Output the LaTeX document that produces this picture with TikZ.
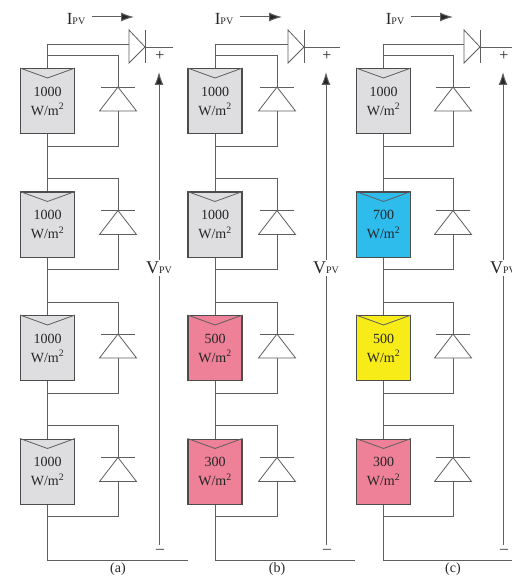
\documentclass[tikz,border=0pt]{standalone}
\usepackage{fontspec}
\setmainfont{Liberation Serif}
\usetikzlibrary{arrows.meta}
\definecolor{wire}{RGB}{95,95,95}
\definecolor{cellgray}{RGB}{222,222,224}
\definecolor{cellpink}{RGB}{238,128,152}
\definecolor{cellcyan}{RGB}{45,188,236}
\definecolor{cellyellow}{RGB}{248,236,24}
\newcommand{\pvsub}[2]{{\fontsize{#1}{#1}\selectfont #2}{\fontsize{10}{10}\selectfont PV}}

\begin{document}
\begin{tikzpicture}[x=1pt, y=-1pt, line width=0.8pt, color=wire,
    every node/.append style={text=black!85},
    cell/.style={draw=wire!80!black, line width=1.1pt, minimum width=54pt, minimum height=65pt,
      inner sep=0pt, anchor=north, align=center, font=\fontsize{14}{19}\selectfont},
    diode/.style={fill=white, line width=0.8pt},
    tip/.style={-{Latex[length=13pt,width=9pt,fill=black!85]}, line width=1pt},
    sign/.style={inner sep=0pt, font=\fontsize{16}{16}\selectfont}]
  \useasboundingbox (0,0) rectangle (511,577);
  \foreach \col/\px/\dx/\vx/\ix/\cells in {
      a/47.5/118/159/76/{1000/cellgray,1000/cellgray,1000/cellgray,1000/cellgray},
      b/215/277/326/224/{1000/cellgray,1000/cellgray,500/cellpink,300/cellpink},
      c/383.5/453/503/395/{1000/cellgray,700/cellcyan,500/cellyellow,300/cellpink}}
  {
    % four panels, each with its bypass diode
    \foreach \g/\clr [count=\k] in \cells {
      \pgfmathsetmacro\T{68+123.5*(\k-1)}
      \node (pv-\col\k) [cell, fill=\clr] at (\px,\T) {\g\\W/m\textsuperscript{2}};
      \draw (pv-\col\k.north west) -- ([yshift=-10pt]pv-\col\k.north) -- (pv-\col\k.north east);
      \coordinate (in-\col\k) at (\px,\T-13);
      \coordinate (k-\col\k) at (\dx,\T+19);
      \coordinate (a-\col\k) at (\dx,\T+43);
      \coordinate (out-\col\k) at (\px,\T+78);
      \draw (in-\col\k) -| (k-\col\k);
      \draw (a-\col\k) |- (out-\col\k);
      \draw (in-\col\k) -- (pv-\col\k);
      \draw (pv-\col\k) -- (out-\col\k);
      \draw[diode] ([xshift=-18.5pt]a-\col\k) -- ([xshift=18.5pt]a-\col\k) -- (k-\col\k) -- cycle;
      \draw ([xshift=-17pt]k-\col\k) -- ([xshift=17pt]k-\col\k);
    }
    \foreach \k/\n in {1/2,2/3,3/4}
      \draw (out-\col\k) -- (in-\col\n);
    % blocking diode and output
    \coordinate (top-\col) at (\px,44);
    \coordinate (sa-\col) at (\dx+11,44);
    \coordinate (sk-\col) at (\dx+27,47);
    \coordinate (pos-\col) at (\vx+14,47);
    \draw (in-\col1) -- (top-\col) -- (sa-\col);
    \draw[diode] (\dx+11,30) -- (\dx+11,63) -- (sk-\col) -- cycle;
    \draw (\dx+27,30) -- (\dx+27,63);
    \draw (sk-\col) -- (pos-\col);
    % bottom rail
    \coordinate (rail-\col) at (\px,560);
    \coordinate (railend-\col) at (\px+140,560);
    \draw (out-\col4) -- (rail-\col) -- (railend-\col);
    % current and voltage
    \node (ipv-\col) at (\ix,19) {\pvsub{17}{I}};
    \coordinate (ia-\col) at (\ix+16,17);
    \coordinate (ib-\col) at (\ix+58,17);
    \draw[tip] (ia-\col) -- (ib-\col);
    \coordinate (vb-\col) at (\vx,545);
    \coordinate (vt-\col) at (\vx,72);
    \draw[tip] (vb-\col) -- node (vpv-\col) [pos=0.586, fill=white, inner sep=2pt] {\pvsub{18}{V}} (vt-\col);
    \node (plus-\col) [sign] at (\vx+1,56) {+};
    \node (minus-\col) [sign] at (\vx+1,551) {–};
    \node (lbl-\col) [font=\fontsize{14}{14}\selectfont] at (\dx,569) {(\col)};
  }
\end{tikzpicture}
\end{document}
